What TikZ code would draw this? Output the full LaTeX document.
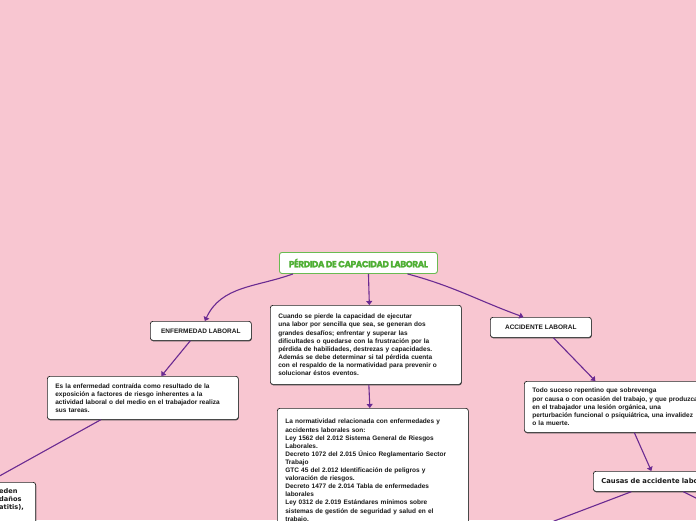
\documentclass[tikz,border=0pt]{standalone}
\usepackage{fontspec}
\setmainfont{Liberation Sans}
\newfontfamily\titlefont{Poppins}[LetterSpace=-5, BoldFeatures={FakeBold=1.2}]
\newfontfamily\causefont{DejaVu Sans}
\usepackage{tikz}
\usetikzlibrary{arrows.meta, positioning, calc, shadows}
\definecolor{mapbg}{HTML}{F8C6D1}
\definecolor{mappurple}{HTML}{6A2A91}
\definecolor{mapgreen}{HTML}{4FAF34}
\definecolor{mapink}{HTML}{1A1A1A}

\begin{document}
\begin{tikzpicture}[
    x=1pt, y=1pt,
    font=\fontsize{6.5}{8.1}\selectfont\bfseries,
    box/.style={draw=black!85, fill=white, rounded corners=2.5pt, line width=0.7pt,
                anchor=north west, text=mapink, inner xsep=8pt, inner ysep=6pt},
    card/.style={box, drop shadow={shadow xshift=0.4pt, shadow yshift=-0.9pt,
                 fill=black!70, opacity=1}},
    topic/.style={card, align=center, minimum width=#1},
    note/.style={card, align=left, text width=#1},
    link/.style={draw=mappurple, line width=1.1pt, -{Triangle[length=4pt, width=6pt]}},
  ]
    \path[use as bounding box] (0,0) rectangle (696,-520);
    \clip (0,0) rectangle (696,-520);
    \fill[mapbg] (0,0) rectangle (696,-520);

    \node[box, draw=mapgreen!85, line width=0.9pt, minimum width=158pt, minimum height=21pt,
          text=mapgreen, font=\titlefont\fontsize{8.9}{9.5}\selectfont\bfseries]
      (root) at (279,-252) {PÉRDIDA DE CAPACIDAD LABORAL};

    \node[topic=101pt, minimum height=19pt] (enf) at (150,-321) {ENFERMEDAD LABORAL};
    \node[topic=101pt, minimum height=20pt] (acc) at (490,-317) {ACCIDENTE LABORAL};

    \node[note=175pt, minimum height=79pt] (centro) at (270,-305)
      {Cuando se pierde la capacidad de ejecutar\\
       una labor por sencilla que sea, se generan dos\\
       grandes desafíos; enfrentar y superar las\\
       dificultades o quedarse con la frustración por la\\
       pérdida de habilidades, destrezas y capacidades.\\
       Además se debe determinar si tal pérdida cuenta\\
       con el respaldo de la normatividad para prevenir o\\
       solucionar éstos eventos.};

    \node[note=175pt, minimum height=125pt] (norma) at (277,-408)
      {La normatividad relacionada con enfermedades y\\
       accidentes laborales son:\\
       Ley 1562 del 2.012 Sistema General de Riesgos\\
       Laborales.\\
       Decreto 1072 del 2.015 Único Reglamentario Sector\\
       Trabajo\\
       GTC 45 del 2.012 Identificación de peligros y\\
       valoración de riesgos.\\
       Decreto 1477 de 2.014 Tabla de enfermedades\\
       laborales\\
       Ley 0312 de 2.019 Estándares mínimos sobre\\
       sistemas de gestión de seguridad y salud en el\\
       trabajo.};

    \node[note=175pt, minimum height=43pt] (enfdesc) at (47,-376)
      {Es la enfermedad contraída como resultado de la\\
       exposición a factores de riesgo inherentes a la\\
       actividad laboral o del medio en el trabajador realiza\\
       sus tareas.};

    \node[note=214pt, minimum height=51pt] (accdesc) at (524,-381)
      {Todo suceso repentino que sobrevenga\\
       por causa o con ocasión del trabajo, y que produzca\\
       en el trabajador una lesión orgánica, una\\
       perturbación funcional o psiquiátrica, una invalidez\\
       o la muerte.};

    \node[note=114pt, minimum height=20pt, font=\causefont\fontsize{6.8}{8}\selectfont\bfseries]
      (causas) at (593,-471) {Causas de accidente laboral};

    \node[card, anchor=north east, minimum width=94pt, minimum height=60pt] (dano) at (36,-482) {};
    \node[anchor=north west, align=left, inner sep=0pt, text=mapink,
          font=\causefont\fontsize{6.6}{8}\selectfont\bfseries] (danotxt) at (-1,-488)
      {eden\\daños\\atitis),};

    \coordinate (offL) at (520,-534);
    \coordinate (offR) at (720,-510);

    \draw[link] ([xshift=14]root.south west) to[out=200, in=65] ([xshift=4]enf.north);
    \draw[link] ([xshift=10]root.south) -- ([xshift=3.5]centro.north);
    \draw[link] ([xshift=49]root.south) to[out=-15, in=160] ([xshift=-17.5]acc.north);
    \draw[link] ([xshift=-10.5]enf.south) -- ([xshift=18.5]enfdesc.north);
    \draw[link] ([xshift=3]centro.south) -- ([xshift=-3]norma.north);
    \draw[link] ([xshift=-42]enfdesc.south) -- (dano.north);
    \draw[link] ([xshift=12.5]acc.south) -- ([xshift=-44]accdesc.north);
    \draw[link] ([xshift=-5]accdesc.south) -- ([xshift=-7]causas.north);
    \draw[link] ([xshift=-27]causas.south) -- (offL);
    \draw[link] ([xshift=25]causas.south) -- (offR);
  \end{tikzpicture}
\end{document}
